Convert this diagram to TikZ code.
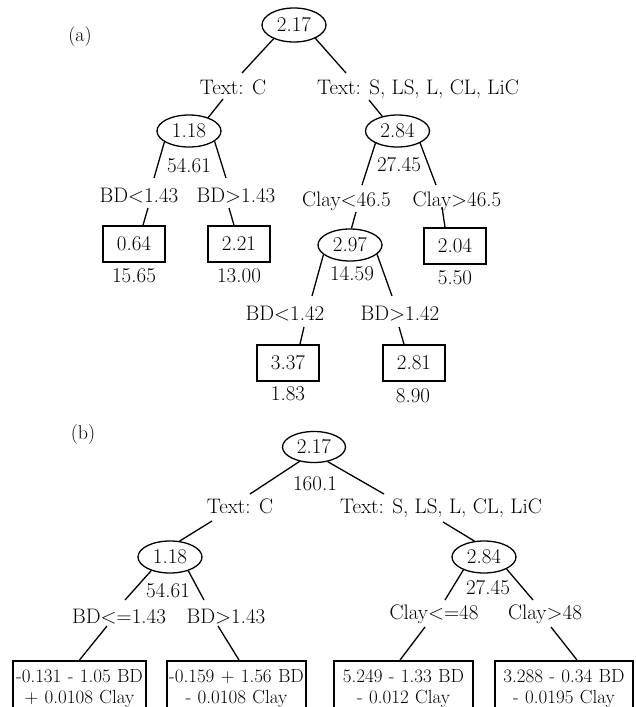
\documentclass[tikz,border=0pt]{standalone}
\usetikzlibrary{shapes.geometric,calc}
\begin{document}
\begin{tikzpicture}[x=1pt,y=-1pt,
  lab/.style={font=\fontsize{21}{25}\selectfont, inner sep=0pt, anchor=base},
  panel/.style={font=\fontsize{20}{24}\selectfont, inner sep=0pt, anchor=base},
  ell/.style={draw, ellipse, line width=1.3pt, inner sep=0pt, minimum width=64pt, minimum height=32pt, font=\fontsize{21}{25}\selectfont},
  leaf/.style={draw, rectangle, line width=1.6pt, inner sep=0pt, minimum width=62pt, minimum height=36pt, font=\fontsize{21}{25}\selectfont},
  eq/.style={draw, rectangle, line width=1.6pt, inner sep=0pt, align=center, anchor=north, minimum height=56pt, font=\fontsize{19}{21}\selectfont},
  conn/.style={line width=1.3pt}]
\useasboundingbox (0,0) rectangle (635,707);
\clip (0,0) rectangle (635,707);

% ---------------- (a) ----------------
\node[panel] (pa) at (80,41) {(a)};
\node[ell, minimum height=34pt] (ra) at (294,25) {2.17};
\node[lab] (tc) at (233,94) {Text: C};
\node[lab] (ts) at (418,94) {Text: S, LS, L, CL, LiC};
\node[ell] (e118a) at (189,131) {1.18};
\node[lab] (n5461a) at (189,172) {54.61};
\node[ell] (e284a) at (397.5,131) {2.84};
\node[lab] (n2745a) at (399,171) {27.45};
\node[lab] (bdl) at (139,202) {BD\textless1.43};
\node[lab] (bdr) at (236,202) {BD\textgreater1.43};
\node[lab] (cl) at (346.5,206) {Clay\textless46.5};
\node[lab] (cr) at (457,206) {Clay\textgreater46.5};
\node[leaf] (b064) at (134,244) {0.64};
\node[lab] (n1565) at (134,282) {15.65};
\node[leaf] (b221) at (239,244) {2.21};
\node[lab] (n1300) at (239,282) {13.00};
\node[ell] (e297a) at (350,245) {2.97};
\node[lab] (n1459) at (352,280) {14.59};
\node[leaf] (b204) at (455,246) {2.04};
\node[lab] (n550) at (455,284) {5.50};
\node[lab] (bd2l) at (285,320) {BD\textless1.42};
\node[lab] (bd2r) at (400,320) {BD\textgreater1.42};
\node[leaf] (b337) at (288,363) {3.37};
\node[lab] (n183) at (288,400) {1.83};
\node[leaf] (b281) at (414,363) {2.81};
\node[lab] (n890) at (413,402) {8.90};

\draw[conn] (ra.214) -- ($(tc.base)+(9,-21)$);
\draw[conn] ($(tc.base)+(-10,5)$) -- (e118a.35);
\draw[conn] (ra.328) -- ($(ts.base)+(-72,-21)$);
\draw[conn] ($(ts.base)+(-49,6)$) -- (e284a.136);
\draw[conn] (e118a.204) -- ($(bdl.base)+(15,-24)$);
\draw[conn] (e118a.338) -- ($(bdr.base)+(-10,-24)$);
\draw[conn] ($(bdl.base)+(9,6)$) -- ($(b064.north)+(9,0)$);
\draw[conn] ($(bdr.base)+(-7,6)$) -- ($(b221.north)+(-5,0)$);
\draw[conn] (e284a.209) -- ($(cl.base)+(15.5,-21)$);
\draw[conn] (e284a.332) -- ($(cr.base)+(-21,-21)$);
\draw[conn] ($(cl.base)+(9.5,6)$) -- (e297a.85);
\draw[conn] ($(cr.base)+(-15,1)$) -- ($(b204.north)+(-10,0)$);
\draw[conn] (e297a.200) -- ($(bd2l.base)+(27,-24)$);
\draw[conn] (e297a.341) -- ($(bd2r.base)+(-8,-24)$);
\draw[conn] ($(bd2l.base)+(19,7)$) -- ($(b337.north)+(12,0)$);
\draw[conn] ($(bd2r.base)+(-1,7)$) -- ($(b281.north)+(-10,0)$);

% ---------------- (b) ----------------
\node[panel] (pb) at (83,439) {(b)};
\node[ell, minimum width=63pt, minimum height=31pt] (rb) at (314,447) {2.17};
\node[lab] (n1601) at (315,490) {160.1};
\node[lab] (tcb) at (240,513) {Text: C};
\node[lab] (tsb) at (441,513) {Text: S, LS, L, CL, LiC};
\node[ell] (e118b) at (170,557) {1.18};
\node[lab] (n5461b) at (168,597) {54.61};
\node[ell] (e284b) at (484,557) {2.84};
\node[lab] (n2745b) at (488,594) {27.45};
\node[lab] (bdlb) at (119,623) {BD\textless=1.43};
\node[lab] (bdrb) at (226,623) {BD\textgreater1.43};
\node[lab] (clb) at (434,619) {Clay\textless=48};
\node[lab] (crb) at (545,619) {Clay\textgreater48};
\node[eq, text width=133pt] (m1) at (79.5,660) {-0.131 - 1.05 BD\\+ 0.0108 Clay};
\node[eq, text width=139pt] (m2) at (236.5,660) {-0.159 + 1.56 BD\\- 0.0108 Clay};
\node[eq, text width=139pt] (m3) at (403.5,660) {5.249 - 1.33 BD\\- 0.012 Clay};
\node[eq, text width=138pt] (m4) at (564,660) {3.288 - 0.34 BD\\- 0.0195 Clay};

\draw[conn] (rb.225) -- ($(tcb.base)+(10,-19)$);
\draw[conn] (rb.313) -- ($(tsb.base)+(-57,-19)$);
\draw[conn] ($(tcb.base)+(-28,8)$) -- (e118b.59);
\draw[conn] ($(tsb.base)+(2,9)$) -- (e284b.121);
\draw[conn] (e118b.216) -- ($(bdlb.base)+(6,-23)$);
\draw[conn] (e118b.323) -- ($(bdrb.base)+(-22,-23)$);
\draw[conn] ($(bdlb.base)+(-12,3)$) -- (m1.north);
\draw[conn] ($(bdrb.base)+(-8,3)$) -- ($(m2.north)+(2.5,0)$);
\draw[conn] (e284b.212) -- ($(clb.base)+(11,-19)$);
\draw[conn] (e284b.332) -- ($(crb.base)+(-12,-19)$);
\draw[conn] ($(clb.base)+(-9,8)$) -- ($(m3.north)+(-3.5,0)$);
\draw[conn] ($(crb.base)+(6,8)$) -- ($(m4.north)+(13,0)$);
\end{tikzpicture}
\end{document}
